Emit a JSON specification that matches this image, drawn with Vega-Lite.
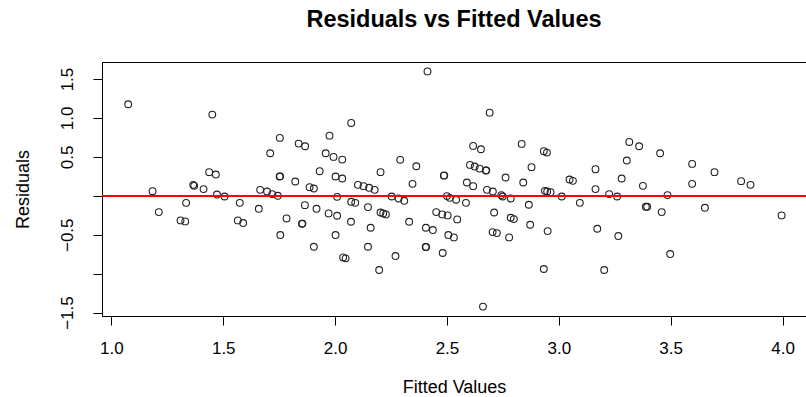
{
  "$schema": "https://vega.github.io/schema/vega-lite/v6.json",
  "width": 704,
  "height": 254,
  "autosize": {"type": "none"},
  "padding": {"left": 102, "top": 62, "right": 0, "bottom": 81},
  "background": "white",
  "title": {
    "text": "Residuals vs Fitted Values",
    "font": "Liberation Sans",
    "fontSize": 23.5,
    "fontWeight": "bold",
    "color": "#000",
    "anchor": "middle",
    "frame": "group",
    "baseline": "alphabetic",
    "offset": 12
  },
  "config": {
    "view": {"stroke": "#000", "strokeWidth": 1},
    "axis": {
      "grid": false,
      "domainColor": "#000",
      "tickColor": "#000",
      "tickSize": 9,
      "labelFont": "Liberation Sans",
      "labelFontSize": 17,
      "labelColor": "#000",
      "titleFont": "Liberation Sans",
      "titleFontSize": 18,
      "titleFontWeight": "normal",
      "titleColor": "#000"
    }
  },
  "data": {
    "values": [
      {"fitted": 1.075, "residual": 1.176},
      {"fitted": 1.451, "residual": 1.043},
      {"fitted": 1.437, "residual": 0.304},
      {"fitted": 1.467, "residual": 0.273},
      {"fitted": 1.184, "residual": 0.06},
      {"fitted": 1.212, "residual": -0.209},
      {"fitted": 1.366, "residual": 0.141},
      {"fitted": 1.37, "residual": 0.128},
      {"fitted": 1.412, "residual": 0.086},
      {"fitted": 1.472, "residual": 0.017},
      {"fitted": 1.506, "residual": -0.009},
      {"fitted": 1.334, "residual": -0.09},
      {"fitted": 1.309, "residual": -0.316},
      {"fitted": 1.33, "residual": -0.329},
      {"fitted": 1.574, "residual": -0.09},
      {"fitted": 1.565, "residual": -0.316},
      {"fitted": 1.589, "residual": -0.35},
      {"fitted": 2.072, "residual": 0.936},
      {"fitted": 1.753, "residual": 0.744},
      {"fitted": 1.975, "residual": 0.773},
      {"fitted": 1.837, "residual": 0.671},
      {"fitted": 1.866, "residual": 0.637},
      {"fitted": 1.71, "residual": 0.547},
      {"fitted": 1.958, "residual": 0.547},
      {"fitted": 1.993, "residual": 0.5},
      {"fitted": 2.032, "residual": 0.465},
      {"fitted": 1.931, "residual": 0.316},
      {"fitted": 1.752, "residual": 0.248},
      {"fitted": 1.754, "residual": 0.25},
      {"fitted": 1.822, "residual": 0.184},
      {"fitted": 2.002, "residual": 0.248},
      {"fitted": 2.032, "residual": 0.222},
      {"fitted": 1.886, "residual": 0.111},
      {"fitted": 1.905, "residual": 0.094},
      {"fitted": 2.102, "residual": 0.141},
      {"fitted": 2.127, "residual": 0.124},
      {"fitted": 2.152, "residual": 0.103},
      {"fitted": 2.177, "residual": 0.077},
      {"fitted": 2.203, "residual": 0.304},
      {"fitted": 1.665, "residual": 0.077},
      {"fitted": 1.696, "residual": 0.055},
      {"fitted": 1.719, "residual": 0.022},
      {"fitted": 1.744, "residual": 0.0},
      {"fitted": 1.659, "residual": -0.167},
      {"fitted": 2.009, "residual": -0.013},
      {"fitted": 2.072, "residual": -0.077},
      {"fitted": 2.09, "residual": -0.09},
      {"fitted": 1.865, "residual": -0.12},
      {"fitted": 1.917, "residual": -0.167},
      {"fitted": 1.971, "residual": -0.226},
      {"fitted": 2.009, "residual": -0.256},
      {"fitted": 2.147, "residual": -0.145},
      {"fitted": 1.783, "residual": -0.291},
      {"fitted": 1.852, "residual": -0.359},
      {"fitted": 1.854, "residual": -0.357},
      {"fitted": 2.071, "residual": -0.333},
      {"fitted": 2.159, "residual": -0.41},
      {"fitted": 1.755, "residual": -0.504},
      {"fitted": 2.002, "residual": -0.504},
      {"fitted": 1.905, "residual": -0.654},
      {"fitted": 2.147, "residual": -0.654},
      {"fitted": 2.036, "residual": -0.791},
      {"fitted": 2.047, "residual": -0.803},
      {"fitted": 2.197, "residual": -0.953},
      {"fitted": 2.413, "residual": 1.598},
      {"fitted": 2.691, "residual": 1.068},
      {"fitted": 2.617, "residual": 0.641},
      {"fitted": 2.652, "residual": 0.598},
      {"fitted": 2.291, "residual": 0.462},
      {"fitted": 2.363, "residual": 0.38},
      {"fitted": 2.603, "residual": 0.397},
      {"fitted": 2.624, "residual": 0.376},
      {"fitted": 2.646, "residual": 0.35},
      {"fitted": 2.674, "residual": 0.325},
      {"fitted": 2.676, "residual": 0.327},
      {"fitted": 2.486, "residual": 0.26},
      {"fitted": 2.488, "residual": 0.262},
      {"fitted": 2.762, "residual": 0.235},
      {"fitted": 2.346, "residual": 0.154},
      {"fitted": 2.589, "residual": 0.171},
      {"fitted": 2.617, "residual": 0.124},
      {"fitted": 2.679, "residual": 0.077},
      {"fitted": 2.705, "residual": 0.055},
      {"fitted": 2.743, "residual": 0.009},
      {"fitted": 2.749, "residual": -0.009},
      {"fitted": 2.785, "residual": -0.034},
      {"fitted": 2.253, "residual": -0.009},
      {"fitted": 2.284, "residual": -0.034},
      {"fitted": 2.309, "residual": -0.064},
      {"fitted": 2.5, "residual": -0.004},
      {"fitted": 2.513, "residual": -0.026},
      {"fitted": 2.541, "residual": -0.051},
      {"fitted": 2.585, "residual": -0.09},
      {"fitted": 2.203, "residual": -0.214},
      {"fitted": 2.215, "residual": -0.226},
      {"fitted": 2.227, "residual": -0.239},
      {"fitted": 2.331, "residual": -0.333},
      {"fitted": 2.452, "residual": -0.209},
      {"fitted": 2.479, "residual": -0.239},
      {"fitted": 2.503, "residual": -0.252},
      {"fitted": 2.546, "residual": -0.303},
      {"fitted": 2.711, "residual": -0.214},
      {"fitted": 2.785, "residual": -0.282},
      {"fitted": 2.799, "residual": -0.299},
      {"fitted": 2.406, "residual": -0.41},
      {"fitted": 2.437, "residual": -0.44},
      {"fitted": 2.506, "residual": -0.504},
      {"fitted": 2.531, "residual": -0.534},
      {"fitted": 2.704, "residual": -0.466},
      {"fitted": 2.723, "residual": -0.479},
      {"fitted": 2.778, "residual": -0.534},
      {"fitted": 2.405, "residual": -0.658},
      {"fitted": 2.407, "residual": -0.656},
      {"fitted": 2.481, "residual": -0.735},
      {"fitted": 2.27, "residual": -0.774},
      {"fitted": 2.661, "residual": -1.423},
      {"fitted": 3.315, "residual": 0.692},
      {"fitted": 3.359, "residual": 0.637},
      {"fitted": 2.834, "residual": 0.667},
      {"fitted": 2.933, "residual": 0.573},
      {"fitted": 2.947, "residual": 0.555},
      {"fitted": 3.304, "residual": 0.453},
      {"fitted": 2.878, "residual": 0.368},
      {"fitted": 3.164, "residual": 0.342},
      {"fitted": 3.281, "residual": 0.222},
      {"fitted": 3.048, "residual": 0.209},
      {"fitted": 3.063, "residual": 0.192},
      {"fitted": 2.841, "residual": 0.171},
      {"fitted": 3.376, "residual": 0.128},
      {"fitted": 3.164, "residual": 0.086},
      {"fitted": 2.938, "residual": 0.064},
      {"fitted": 2.948, "residual": 0.055},
      {"fitted": 2.963, "residual": 0.047},
      {"fitted": 3.013, "residual": -0.009},
      {"fitted": 3.225, "residual": 0.022},
      {"fitted": 3.261, "residual": -0.009},
      {"fitted": 2.866, "residual": -0.115},
      {"fitted": 3.094, "residual": -0.09},
      {"fitted": 3.389, "residual": -0.141},
      {"fitted": 3.395, "residual": -0.141},
      {"fitted": 2.872, "residual": -0.372},
      {"fitted": 2.95, "residual": -0.453},
      {"fitted": 3.172, "residual": -0.423},
      {"fitted": 3.266, "residual": -0.517},
      {"fitted": 2.933, "residual": -0.94},
      {"fitted": 3.203, "residual": -0.953},
      {"fitted": 3.453, "residual": 0.547},
      {"fitted": 3.596, "residual": 0.41},
      {"fitted": 3.696, "residual": 0.304},
      {"fitted": 3.596, "residual": 0.154},
      {"fitted": 3.815, "residual": 0.188},
      {"fitted": 3.857, "residual": 0.141},
      {"fitted": 3.486, "residual": 0.009},
      {"fitted": 3.46, "residual": -0.209},
      {"fitted": 3.653, "residual": -0.154},
      {"fitted": 3.996, "residual": -0.252},
      {"fitted": 3.498, "residual": -0.748}
    ]
  },
  "layer": [
    {
      "mark": {"type": "point", "shape": "circle", "filled": false, "size": 46, "stroke": "#222", "strokeWidth": 1.1, "opacity": 1},
      "encoding": {
        "x": {
          "field": "fitted",
          "type": "quantitative",
          "scale": {"domain": [0.958, 4.105], "nice": false, "zero": false},
          "axis": {
            "title": "Fitted Values",
            "values": [1, 1.5, 2, 2.5, 3, 3.5, 4],
            "format": ".1f",
            "labelBaseline": "alphabetic",
            "labelPadding": 28,
            "labelFlush": false,
            "labelOverlap": false,
            "titleBaseline": "alphabetic",
            "titleY": 76
          }
        },
        "y": {
          "field": "residual",
          "type": "quantitative",
          "scale": {"domain": [-1.544, 1.719], "nice": false, "zero": false},
          "axis": {
            "title": "Residuals",
            "values": [-1.5, -1, -0.5, 0, 0.5, 1, 1.5],
            "labelExpr": "datum.value == 0 || datum.value == -1 ? '' : format(datum.value, '.1f')",
            "labelAngle": -90,
            "labelAlign": "center",
            "labelBaseline": "alphabetic",
            "labelPadding": 21,
            "labelFlush": false,
            "labelOverlap": false,
            "titleAngle": -90,
            "titleAlign": "center",
            "titleBaseline": "alphabetic",
            "titleX": -74,
            "titleY": 127
          }
        }
      }
    },
    {
      "mark": {"type": "rule", "color": "#ff0000", "strokeWidth": 1.6},
      "encoding": {"y": {"datum": 0}}
    }
  ]
}
